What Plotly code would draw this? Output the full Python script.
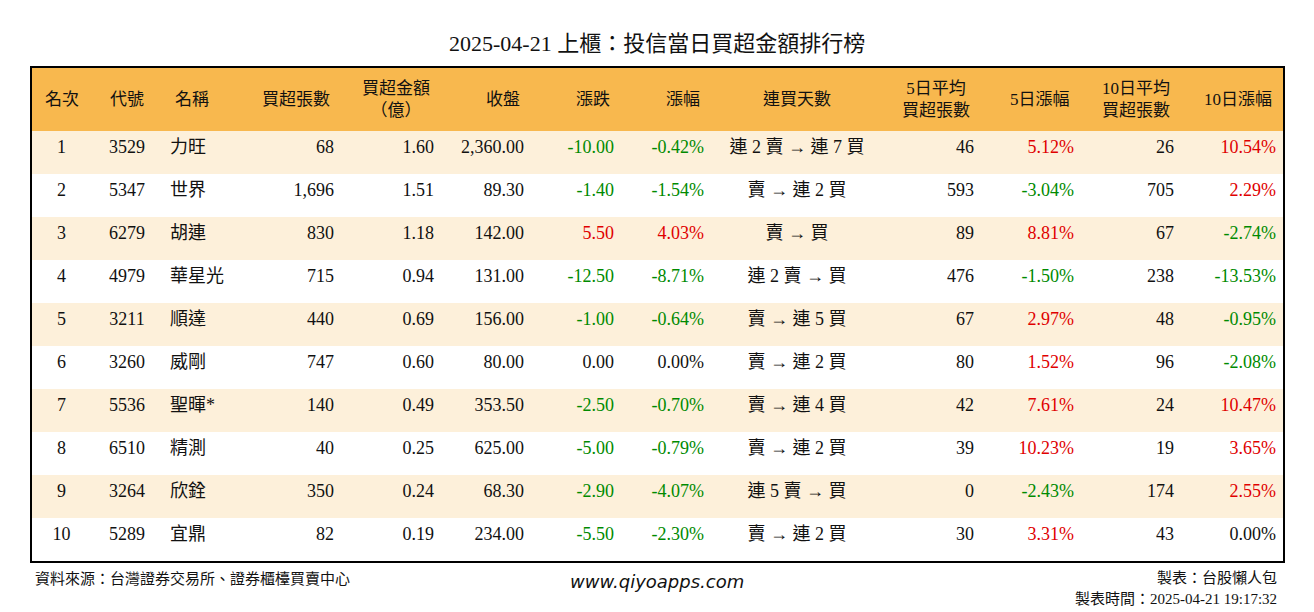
import plotly.graph_objects as go

rank = [1, 2, 3, 4, 5, 6, 7, 8, 9, 10]
code = ["3529", "5347", "6279", "4979", "3211", "3260", "5536", "6510", "3264", "5289"]
name = ["力旺", "世界", "胡連", "華星光", "順達", "威剛", "聖暉*", "精測", "欣銓", "宜鼎"]
buy_lots = [68, 1696, 830, 715, 440, 747, 140, 40, 350, 82]
buy_amt = [1.60, 1.51, 1.18, 0.94, 0.69, 0.60, 0.49, 0.25, 0.24, 0.19]
close = [2360.00, 89.30, 142.00, 131.00, 156.00, 80.00, 353.50, 625.00, 68.30, 234.00]
change = [-10.00, -1.40, 5.50, -12.50, -1.00, 0.00, -2.50, -5.00, -2.90, -5.50]
pct = [-0.42, -1.54, 4.03, -8.71, -0.64, 0.00, -0.70, -0.79, -4.07, -2.30]
streak = ["連 2 賣 → 連 7 買", "賣 → 連 2 買", "賣 → 買", "連 2 賣 → 買", "賣 → 連 5 買",
          "賣 → 連 2 買", "賣 → 連 4 買", "賣 → 連 2 買", "連 5 賣 → 買", "賣 → 連 2 買"]
avg5 = [46, 593, 89, 476, 67, 80, 42, 39, 0, 30]
pct5 = [5.12, -3.04, 8.81, -1.50, 2.97, 1.52, 7.61, 10.23, -2.43, 3.31]
avg10 = [26, 705, 67, 238, 48, 96, 24, 19, 174, 43]
pct10 = [10.54, 2.29, -2.74, -13.53, -0.95, -2.08, 10.47, 3.65, 2.55, 0.00]

headers = ["名次", "代號", "名稱", "買超張數", "買超金額<br>（億）", "收盤", "漲跌", "漲幅",
           "連買天數", "5日平均<br>買超張數", "5日漲幅", "10日平均<br>買超張數", "10日漲幅"]
widths = [61, 70, 80, 100, 100, 90, 90, 90, 170, 100, 100, 100, 102]

GREEN = "#008a00"
RED = "#e00000"
BLACK = "#111111"
W, H = 1314, 612


# wanted screen pixel -> paper coord (the page body adds ~8px margin)
def px(x):
    return (x - 8) / W


def py(y):
    return 1 - (y - 7) / H


def col(v):
    return [RED if x > 0 else GREEN if x < 0 else BLACK for x in v]


cells = [
    [str(r) for r in rank],
    code,
    name,
    [f"{v:,}" for v in buy_lots],
    [f"{v:.2f}" for v in buy_amt],
    [f"{v:,.2f}" for v in close],
    [f"{v:.2f}" for v in change],
    [f"{v:.2f}%" for v in pct],
    streak,
    [str(v) for v in avg5],
    [f"{v:.2f}%" for v in pct5],
    [str(v) for v in avg10],
    [f"{v:.2f}%" for v in pct10],
]
colors = [[BLACK] * 10] * 6 + [col(change), col(pct), [BLACK] * 10, [BLACK] * 10,
                                col(pct5), [BLACK] * 10, col(pct10)]
fills = [["#fdf0da" if i % 2 == 0 else "white" for i in range(10)]] * 13
align = ["center", "center", "left", "right", "right", "right", "right", "right",
         "center", "right", "right", "right", "right"]

font = "Liberation Serif, Noto Sans CJK TC"
L, R, T, B = 31, 1284, 66, 561
fig = go.Figure(go.Table(
    columnwidth=widths,
    header=dict(values=[""] * 13, fill_color="#f8b84e", line=dict(width=0), height=64),
    cells=dict(values=cells, fill_color=fills, line=dict(width=0), align=align, height=43,
               font=dict(family=font, size=18, color=colors)),
    domain=dict(x=[px(L), px(R)], y=[0, py(T)]),
))

# header labels, vertically centred in the header band
edge = L
for h, w, a in zip(headers, widths, align):
    if a == "center":
        x, anchor = edge + w / 2, "center"
    elif a == "left":
        x, anchor = edge + 11, "left"
    else:
        x, anchor = edge + w - 10, "right"
    fig.add_annotation(x=px(x), y=py(98), xref="paper", yref="paper", showarrow=False,
                       xanchor=anchor, yanchor="middle", align="center", text=h,
                       font=dict(family=font, size=17, color=BLACK))
    edge += w

fig.add_shape(type="rect", xref="paper", yref="paper", x0=px(L), x1=px(R),
              y0=py(B), y1=py(T), line=dict(color="black", width=2))
fig.add_annotation(x=px(657), y=py(42), xref="paper", yref="paper", showarrow=False,
                   yanchor="middle", text="2025-04-21 上櫃：投信當日買超金額排行榜",
                   font=dict(family=font, size=22, color=BLACK))
fig.add_annotation(x=px(33), y=py(577), xref="paper", yref="paper", showarrow=False,
                   xanchor="left", yanchor="middle", text="資料來源：台灣證券交易所、證券櫃檯買賣中心",
                   font=dict(family=font, size=15, color=BLACK))
fig.add_annotation(x=px(657), y=py(580), xref="paper", yref="paper", showarrow=False,
                   yanchor="middle", text="<i>www.qiyoapps.com</i>",
                   font=dict(family="DejaVu Sans", size=18, color=BLACK))
fig.add_annotation(x=px(1279), y=py(577), xref="paper", yref="paper", showarrow=False,
                   xanchor="right", yanchor="middle", text="製表：台股懶人包",
                   font=dict(family=font, size=15, color=BLACK))
fig.add_annotation(x=px(1279), y=py(598), xref="paper", yref="paper", showarrow=False,
                   xanchor="right", yanchor="middle", text="製表時間：2025-04-21 19:17:32",
                   font=dict(family=font, size=15, color=BLACK))
fig.update_layout(width=W, height=H, margin=dict(l=0, r=0, t=0, b=0),
                  paper_bgcolor="white")
fig.write_html("out.html")
